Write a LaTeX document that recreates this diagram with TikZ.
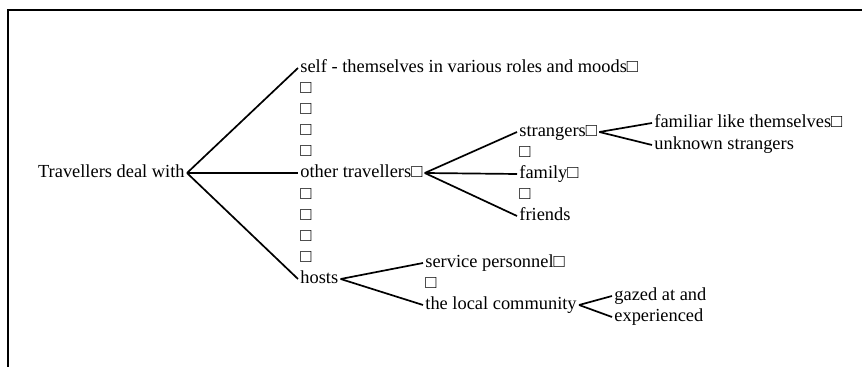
\documentclass[tikz,border=0pt]{standalone}
\usepackage{fontspec}
\setmainfont{Liberation Serif}
\usetikzlibrary{positioning}

\begin{document}
\begin{tikzpicture}[x=0.5pt, y=-0.5pt,
    lbl/.style={anchor=west, inner xsep=1pt, inner ysep=0pt, text height=6.4pt, text depth=1.9pt,
      font=\fontsize{9.2}{10.5}\selectfont},
    link/.style={line width=0.85pt}]
  \useasboundingbox (0,0) rectangle (862,367);
  % Frame (only top and left edges show)
  \draw[line width=0.8pt] (862,10) -- (8,10) -- (8,367);
  % Root
  \node[lbl, anchor=east] (root) at (187,173) {Travellers deal with};
  % Second column
  \node[lbl] (self) at (298,68) {self - themselves in various roles and moods□};
  \node[lbl] (other) at (298,173) {other travellers□};
  \node[lbl] (hosts) at (298,279) {hosts};
  \foreach \k in {1,2,3,4,6,7,8,9}
    \node[lbl] (gap\k) at (298,{68+21.1*\k}) {□};
  % Other travellers
  \node[lbl] (strangers) at (517,132) {strangers□};
  \node[lbl] (gapA) at (517,153) {□};
  \node[lbl] (family) at (517,174) {family□};
  \node[lbl] (gapB) at (517,195) {□};
  \node[lbl] (friends) at (517,216) {friends};
  % Strangers
  \node[lbl] (familiar) at (652,123) {familiar like themselves□};
  \node[lbl] (unknown) at (652,145) {unknown strangers};
  % Hosts
  \node[lbl] (service) at (423,263) {service personnel□};
  \node[lbl] (gapC) at (423,284) {□};
  \node[lbl] (local) at (423,305) {the local community};
  \node[lbl] (gazed) at (612,296) {gazed at and};
  \node[lbl] (exper) at (612,317) {experienced};
  % Connectors
  \foreach \t in {self,other,hosts}
    \draw[link] (root.east) -- (\t.west);
  \foreach \t in {strangers,family,friends}
    \draw[link] (other.east) -- (\t.west);
  \foreach \t in {familiar,unknown}
    \draw[link] (strangers.east) -- (\t.west);
  \foreach \t in {service,local}
    \draw[link] (hosts.east) -- (\t.west);
  \foreach \t in {gazed,exper}
    \draw[link] (local.east) -- (\t.west);
\end{tikzpicture}
\end{document}
